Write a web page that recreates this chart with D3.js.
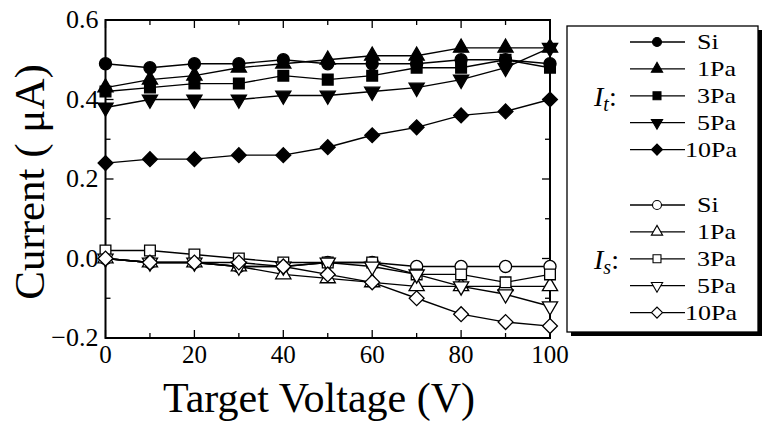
<!DOCTYPE html>
<meta charset="utf-8">
<style>
  body { margin: 0; background: #fff; }
  text { font-family: "Liberation Serif", "Times New Roman", serif; fill: #000; }
</style>
<body>

<div id="chart"></div>

<script src="https://d3js.org/d3.v7.min.js"></script>

<script>
// target voltage (V)
var voltage = [0, 10, 20, 30, 40, 50, 60, 70, 80, 90, 100];

// total current I_t (uA)
var itSi  = [0.49, 0.48, 0.49, 0.49, 0.50, 0.49, 0.49, 0.49, 0.50, 0.50, 0.49];
var it1Pa = [0.43, 0.45, 0.46, 0.48, 0.49, 0.50, 0.51, 0.51, 0.53, 0.53, 0.53];
var it3Pa = [0.42, 0.43, 0.44, 0.44, 0.46, 0.45, 0.46, 0.48, 0.48, 0.50, 0.48];
var it5Pa = [0.38, 0.40, 0.40, 0.40, 0.41, 0.41, 0.42, 0.43, 0.45, 0.48, 0.53];
var it10Pa = [0.24, 0.25, 0.25, 0.26, 0.26, 0.28, 0.31, 0.33, 0.36, 0.37, 0.40];

// substrate current I_s (uA)
var isSi  = [0.00, -0.01, -0.01, -0.02, -0.02, -0.01, -0.01, -0.02, -0.02, -0.02, -0.02];
var is1Pa = [0.00, -0.01, -0.01, -0.02, -0.04, -0.05, -0.06, -0.07, -0.07, -0.07, -0.07];
var is3Pa = [0.02, 0.02, 0.01, 0.00, -0.01, -0.01, -0.01, -0.04, -0.04, -0.06, -0.04];
var is5Pa = [0.00, -0.01, -0.01, -0.02, -0.02, -0.01, -0.02, -0.04, -0.07, -0.09, -0.12];
var is10Pa = [0.00, -0.01, -0.01, -0.01, -0.02, -0.04, -0.06, -0.10, -0.14, -0.16, -0.17];

var seriesNames = ["Si", "1Pa", "3Pa", "5Pa", "10Pa"];
var xTicks = [0, 20, 40, 60, 80, 100];
var yTicks = [-0.2, 0.0, 0.2, 0.4, 0.6];

var width = 768, height = 423;

var svg = d3.select("#chart").append("svg")
    .attr("width", width)
    .attr("height", height);

// plot frame in pixels
var plot = {left: 105.5, right: 550, top: 20, bottom: 338};

var x = d3.scaleLinear().domain([0, 100]).range([plot.left, plot.right]);
var y = d3.scaleLinear().domain([-0.2, 0.6]).range([plot.bottom, plot.top]);

// marker shapes, one per pressure
var shapes = [
  {type: d3.symbolCircle, rot: 0, size: 115},
  {type: d3.symbolTriangle, rot: 0, size: 100},
  {type: d3.symbolSquare, rot: 0, size: 115},
  {type: d3.symbolTriangle, rot: 180, size: 100},
  {type: d3.symbolSquare, rot: 45, size: 110}
];

var groups = [
  {label: "t", fill: "#000", data: [itSi, it1Pa, it3Pa, it5Pa, it10Pa]},
  {label: "s", fill: "#fff", data: [isSi, is1Pa, is3Pa, is5Pa, is10Pa]}
];

// ticks (inside, all four sides)
var ticks = svg.append("g").attr("stroke", "#000").attr("stroke-width", 1.3);
d3.range(0, 101, 10).forEach(function(v) {
  var len = (v % 20 === 0) ? 8 : 5;
  ticks.append("line").attr("x1", x(v)).attr("x2", x(v))
      .attr("y1", plot.bottom).attr("y2", plot.bottom - len);
  ticks.append("line").attr("x1", x(v)).attr("x2", x(v))
      .attr("y1", plot.top).attr("y2", plot.top + len);
});
d3.range(-2, 7).forEach(function(i) {
  var v = i / 10, len = (i % 2 === 0) ? 8 : 5;
  ticks.append("line").attr("y1", y(v)).attr("y2", y(v))
      .attr("x1", plot.left).attr("x2", plot.left + len);
  ticks.append("line").attr("y1", y(v)).attr("y2", y(v))
      .attr("x1", plot.right).attr("x2", plot.right - len);
});

// frame
svg.append("rect")
    .attr("x", plot.left).attr("y", plot.top)
    .attr("width", plot.right - plot.left)
    .attr("height", plot.bottom - plot.top)
    .attr("fill", "none")
    .attr("stroke", "#000")
    .attr("stroke-width", 2);

// tick labels
svg.selectAll(".xlab")
    .data(xTicks)
  .enter().append("text")
    .attr("x", function(d) { return x(d); })
    .attr("y", 363)
    .attr("text-anchor", "middle")
    .attr("font-size", "25px")
    .text(function(d) { return d; });

svg.selectAll(".ylab")
    .data(yTicks)
  .enter().append("text")
    .attr("x", plot.left - 7)
    .attr("y", function(d) { return y(d) + 8; })
    .attr("text-anchor", "end")
    .attr("font-size", "26px")
    .text(function(d) { return d3.format(".1f")(d); });

// axis titles
svg.append("text")
    .attr("x", 319)
    .attr("y", 412)
    .attr("text-anchor", "middle")
    .attr("font-size", "42px")
    .text("Target Voltage (V)");

svg.append("text")
    .attr("transform", "translate(44," + 182 + ") rotate(-90)")
    .attr("text-anchor", "middle")
    .attr("font-size", "43px")
    .style("white-space", "pre")
    .text("Current ( \u03bcA)");

// lines and markers
var line = d3.line()
    .x(function(d, i) { return x(voltage[i]); })
    .y(function(d) { return y(d); });

groups.forEach(function(g) {
  g.data.forEach(function(vals, k) {
    var sh = shapes[k];
    var sym = d3.symbol().type(sh.type).size(sh.size);
    svg.append("path")
        .attr("d", line(vals))
        .attr("fill", "none")
        .attr("stroke", "#000")
        .attr("stroke-width", 1.4);
    svg.selectAll(null)
        .data(vals)
      .enter().append("path")
        .attr("d", sym)
        .attr("transform", function(d, i) {
          return "translate(" + x(voltage[i]) + "," + y(d) + ") rotate(" + sh.rot + ")";
        })
        .attr("fill", g.fill)
        .attr("stroke", "#000")
        .attr("stroke-width", 1.3);
  });
});

// legend box with drop shadow
var box = {x: 567, y: 26, w: 191, h: 306};
svg.append("rect")
    .attr("x", box.x + 4).attr("y", box.y + 4)
    .attr("width", box.w).attr("height", box.h)
    .attr("fill", "#000");
svg.append("rect")
    .attr("x", box.x).attr("y", box.y)
    .attr("width", box.w).attr("height", box.h)
    .attr("fill", "#fff")
    .attr("stroke", "#000")
    .attr("stroke-width", 1.3);

var rowStart = [42, 205], rowStep = 26.9;

groups.forEach(function(g, gi) {
  seriesNames.forEach(function(name, k) {
    var ry = rowStart[gi] + k * rowStep;
    var sh = shapes[k];
    svg.append("line")
        .attr("x1", 630).attr("x2", 685)
        .attr("y1", ry).attr("y2", ry)
        .attr("stroke", "#000")
        .attr("stroke-width", 1.3);
    svg.append("path")
        .attr("d", d3.symbol().type(sh.type).size(sh.size * 0.55))
        .attr("transform", "translate(657," + ry + ") rotate(" + sh.rot + ")")
        .attr("fill", g.fill)
        .attr("stroke", "#000")
        .attr("stroke-width", 1.1);
    // labels are drawn a little wider than the font, as in the original
    svg.append("text")
        .attr("transform", "translate(" + (name.length === 4 ? 685 : 697) + "," + (ry + 7) + ") scale(1.3,1)")
        .attr("font-size", "20px")
        .text(name);
  });

  // I_t: / I_s: label
  var lab = svg.append("text")
      .attr("x", 594)
      .attr("y", rowStart[gi] + 2 * rowStep + 10)
      .attr("font-size", "28px");
  lab.append("tspan").attr("font-style", "italic").text("I");
  lab.append("tspan").attr("font-style", "italic").attr("font-size", "20px")
      .attr("dy", 5).text(g.label);
  lab.append("tspan").attr("dy", -5).text(":");
});

</script>

</body>
